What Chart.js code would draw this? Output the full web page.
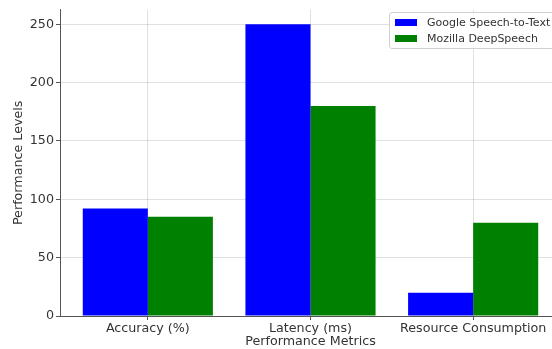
<!DOCTYPE html>
<html>
<head>
<meta charset="utf-8">
<script src="https://cdn.jsdelivr.net/npm/chart.js@4.4.1/dist/chart.umd.min.js"></script>
<style>
  html, body { margin: 0; padding: 0; overflow: hidden; background: #fff; }
  #wrap { position: relative; width: 552px; height: 349px; overflow: hidden; }
  #legend {
    position: absolute; left: 389px; top: 12px; width: 168px;
    border: 1px solid #d0d0d0; border-radius: 3px; background: rgba(255,255,255,0.85);
    font-family: "DejaVu Sans", sans-serif; font-size: 11px; color: #333;
    padding: 1px 0 2px 0; box-sizing: border-box;
  }
  #legend .row { display: flex; align-items: center; height: 16px; }
  #legend .sw { width: 22px; height: 7px; margin: 0 10px 0 5px; }
</style>
</head>
<body>
<div id="wrap">
  <canvas id="mycanvas" width="562" height="349"></canvas>
  <div id="legend"></div>
</div>
<script>
var categories = ['Accuracy (%)', 'Latency (ms)', 'Resource Consumption'];
var googleValues = [92, 250, 20];
var deepSpeechValues = [85, 180, 80];
var yTicks = [0, 50, 100, 150, 200, 250];

var fontFamily = '"DejaVu Sans", sans-serif';
var fontSize = 12.7;

var chartdata = {
  datasets: [
    {
      label: 'Google Speech-to-Text',
      backgroundColor: '#0000ff',
      data: googleValues.map(function(v, i) { return {x: i, y: v}; })
    },
    {
      label: 'Mozilla DeepSpeech',
      backgroundColor: '#008000',
      data: deepSpeechValues.map(function(v, i) { return {x: i, y: v}; })
    }
  ]
};

var ctx = document.getElementById('mycanvas');

var barGraph = new Chart(ctx, {
  type: 'bar',
  data: chartdata,
  options: {
    responsive: false,
    animation: false,
    layout: { padding: { top: 5, right: 1, bottom: 0, left: 0 } },
    categoryPercentage: 0.8,
    barPercentage: 1,
    plugins: {
      legend: { display: false },
      tooltip: { enabled: false }
    },
    scales: {
      x: {
        type: 'linear',
        min: -0.54,
        max: 2.54,
        offset: false,
        afterBuildTicks: function(scale) {
          scale.ticks = categories.map(function(c, i) { return {value: i}; });
        },
        afterFit: function(scale) { scale.height = 33; },
        ticks: {
          autoSkip: false,
          maxRotation: 0,
          padding: 1,
          color: '#333',
          font: { family: fontFamily, size: fontSize },
          callback: function(value) { return categories[value]; }
        },
        grid: {
          offset: false,
          color: 'rgba(0,0,0,0.12)',
          borderDash: [3, 2],
          tickLength: 4,
          tickColor: '#555',
          tickBorderDash: []
        },
        border: { display: true, color: '#555', width: 1 },
        title: {
          display: true,
          text: 'Performance Metrics',
          color: '#333',
          font: { family: fontFamily, size: fontSize, lineHeight: 1.1 },
          padding: { top: 0, bottom: 0 }
        }
      },
      y: {
        min: 0,
        max: 262.5,
        afterBuildTicks: function(scale) {
          scale.ticks = yTicks.map(function(v) { return {value: v}; });
        },
        afterFit: function(scale) { scale.width = 60; },
        ticks: {
          padding: 2,
          color: '#333',
          font: { family: fontFamily, size: fontSize }
        },
        grid: {
          color: 'rgba(0,0,0,0.12)',
          borderDash: [3, 2],
          tickLength: 4,
          tickColor: '#555',
          tickBorderDash: []
        },
        border: { display: true, color: '#555', width: 1 },
        title: {
          display: true,
          text: 'Performance Levels',
          color: '#333',
          font: { family: fontFamily, size: fontSize },
          padding: { top: 11, bottom: 0 }
        }
      }
    }
  }
});

// legend inside the plot, upper right
var legend = document.getElementById('legend');
chartdata.datasets.forEach(function(ds) {
  var row = document.createElement('div');
  row.className = 'row';
  var sw = document.createElement('span');
  sw.className = 'sw';
  sw.style.background = ds.backgroundColor;
  var txt = document.createElement('span');
  txt.textContent = ds.label;
  row.appendChild(sw);
  row.appendChild(txt);
  legend.appendChild(row);
});
</script>
</body>
</html>
